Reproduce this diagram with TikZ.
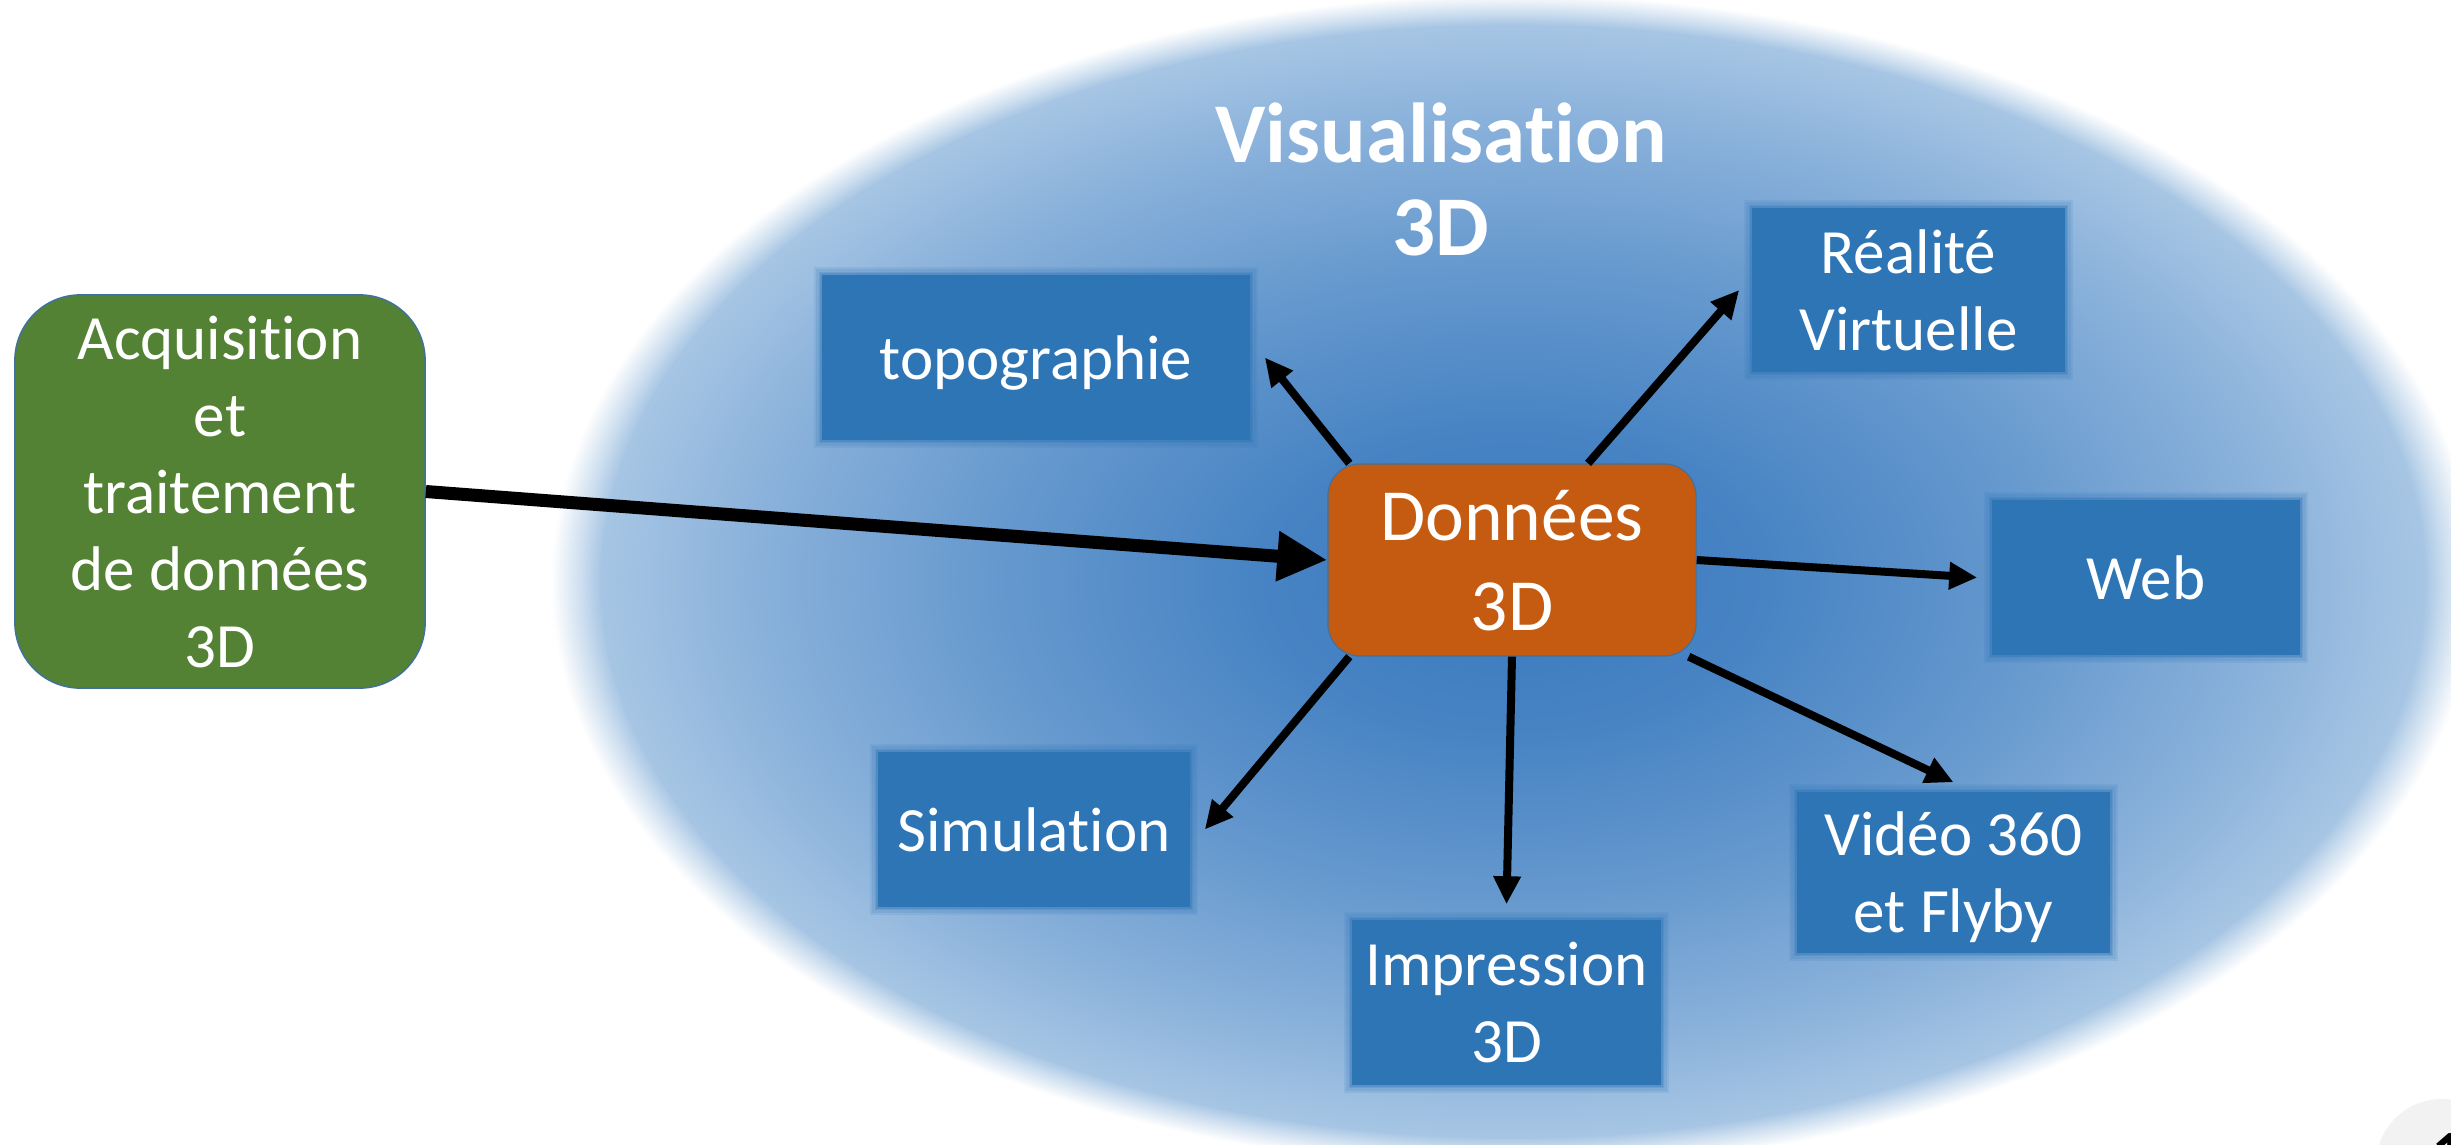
\documentclass[tikz,border=0pt]{standalone}
\usepackage{fontspec}
\setmainfont{Carlito}[Ligatures=NoCommon]
\usetikzlibrary{arrows.meta,fadings}
\definecolor{ellA}{HTML}{3A79BE}
\definecolor{ellB}{HTML}{4884C4}
\definecolor{ellC}{HTML}{6699CE}
\definecolor{ellD}{HTML}{88B0DA}
\definecolor{ellE}{HTML}{AAC8E5}
\definecolor{boxblue}{HTML}{2E75B6}
\definecolor{accgreen}{HTML}{548235}
\definecolor{donorange}{HTML}{C55A11}
\definecolor{edgeblue}{HTML}{41719C}
\definecolor{numgray}{HTML}{F2F2F2}
\pgfdeclareradialshading{ellsh}{\pgfpoint{0bp}{0bp}}{color(0bp)=(ellA); color(6.5bp)=(ellB); color(13bp)=(ellC); color(18.7bp)=(ellD); color(23.3bp)=(ellE); color(50bp)=(ellE)}
\pgfdeclareradialshading{ellfadesh}{\pgfpointorigin}{color(0bp)=(pgftransparent!0); color(22.7bp)=(pgftransparent!0); color(23.95bp)=(pgftransparent!100); color(50bp)=(pgftransparent!100)}
\pgfdeclarefading{ellfade}{\pgfuseshading{ellfadesh}}
\newcommand\pps{\rule[-0.269em]{0pt}{1.221em}}
\newcommand\tps{\rule[-0.297em]{0pt}{1.097em}}
\newcommand\nolig{\kern0pt }
\newcommand\bxfont{\fontsize{17.93pt}{21.9pt}\selectfont}
\newcommand\dnfont{\fontsize{20.91pt}{25.55pt}\selectfont}
\newcommand\ttlfont{\fontsize{24.19pt}{26.55pt}\selectfont\bfseries}
\tikzset{
  bluebox/.style={rectangle, fill=boxblue, text=white, font=\bxfont, align=center, inner sep=0pt,
    preaction={draw=boxblue, draw opacity=0.12, line width=0.16cm},
    preaction={draw=boxblue, draw opacity=0.15, line width=0.11cm},
    preaction={draw=boxblue, draw opacity=0.2, line width=0.065cm},
    preaction={draw=boxblue, draw opacity=0.3, line width=0.03cm}},
  greenbox/.style={rectangle, rounded corners=0.655cm, fill=accgreen, draw=edgeblue, line width=0.015cm,
    text=white, font=\bxfont, align=center, inner sep=0pt},
  orangebox/.style={rectangle, rounded corners=0.32cm, fill=donorange, draw=edgeblue, line width=0.012cm,
    text=white, font=\dnfont, align=center, inner sep=0pt},
  arr/.style={line width=0.08cm, -{Triangle[length=0.28cm, width=0.26cm]}},
  bigarr/.style={line width=0.13cm, -{Triangle[length=0.5cm, width=0.47cm]}},
}
\begin{document}
\begin{tikzpicture}[x=0.01cm, y=-0.01cm]
\path[use as bounding box, clip] (0,0) rectangle (2451,1144);
\fill[white] (0,0) rectangle (2451,1144);
% ellipse background: radial shading with a soft elliptical edge
\shade[shading=ellsh, path fading=ellfade] (513,-29) rectangle (2513,1191);
% slide number
\fill[numgray] (2442,1165) circle [radius=0.66cm];
\node[anchor=north west, inner sep=0pt, font=\fontsize{17.93pt}{20pt}\selectfont\bfseries] (num) at (2432,1133) {1};
% title
\node[text=white, font=\ttlfont, align=center, inner sep=0pt] (title) at (1441,187.3) {\tps Visualisat\nolig ion\\\tps 3D};
% nodes
\node[greenbox, minimum width=4.10cm, minimum height=3.93cm] (acq) at (220,491.5)
  {\pps Acquisit\nolig ion\\\pps et\\\pps traitement\\\pps de données\\\pps 3D};
\node[orangebox, minimum width=3.68cm, minimum height=1.92cm] (don) at (1512,560) {\pps Données\\\pps 3D};
\node[bluebox, minimum width=4.28cm, minimum height=1.65cm] (topo) at (1036,357.5) {\pps topographie};
\node[bluebox, minimum width=3.13cm, minimum height=1.64cm] (rv) at (1908.5,290) {\pps Réalité\\\pps Virtuelle};
\node[bluebox, minimum width=3.08cm, minimum height=1.55cm] (web) at (2146,577.5) {\pps Web};
\node[bluebox, minimum width=3.13cm, minimum height=1.61cm] (video) at (1953.5,872.5) {\pps Vidéo 360\\\pps et Flyby};
\node[bluebox, minimum width=3.09cm, minimum height=1.65cm] (impr) at (1506.5,1002.5) {\pps Impression\\\pps 3D};
\node[bluebox, minimum width=3.12cm, minimum height=1.55cm] (simu) at (1034,829.5) {\pps Simulat\nolig ion};
% connectors
\draw[bigarr] (acq.east) -- (don.west);
\draw[arr] ([xshift=0.22cm]don.north west) -- ([xshift=0.14cm]topo.east);
\draw[arr] ([xshift=0.76cm]don.north) -- ([xshift=-0.12cm]rv.west);
\draw[arr] (don.east) -- ([xshift=-0.14cm]web.west);
\draw[arr] ([xshift=-0.08cm]don.south east) -- ([yshift=0.09cm]video.north);
\draw[arr] (don.south) -- ([yshift=0.15cm]impr.north);
\draw[arr] ([xshift=0.22cm]don.south west) -- ([xshift=0.14cm]simu.east);
\end{tikzpicture}
\end{document}
